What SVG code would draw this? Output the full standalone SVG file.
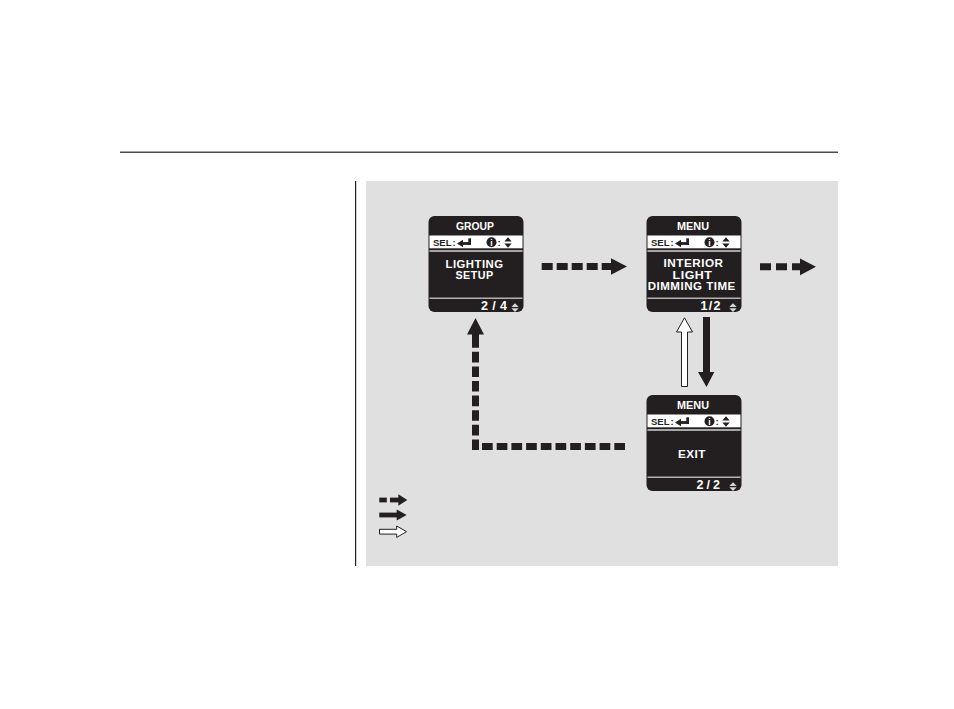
<svg xmlns="http://www.w3.org/2000/svg" xmlns:xlink="http://www.w3.org/1999/xlink" width="954" height="709" viewBox="0 0 954 709">
<style>
.k{fill:#231f20}
.w{fill:#ffffff}
.hd{font-family:"Liberation Sans",Arial,sans-serif;font-weight:bold;font-size:11.5px;fill:#ffffff;text-anchor:middle}
.bd{font-family:"Liberation Sans",Arial,sans-serif;font-weight:bold;font-size:11.5px;fill:#ffffff;text-anchor:middle;letter-spacing:0.5px}
.ft{font-family:"Liberation Sans",Arial,sans-serif;font-weight:bold;font-size:12.5px;fill:#ffffff}
.sl{font-family:"Liberation Sans",Arial,sans-serif;font-weight:bold;font-size:9.5px;fill:#231f20}
.dash{fill:none;stroke:#231f20;stroke-width:7}
</style>
<defs>
<g id="frame">
<rect class="k" x="0" y="0" width="95" height="96" rx="6"/>
<rect class="w" x="1" y="19.5" width="93" height="12.8"/>
<rect class="w" x="1" y="34.4" width="93" height="1.2"/>
<rect fill="#d6d6d6" x="1" y="81.6" width="93" height="1.2"/>
<text class="sl" x="4.5" y="29.8">SEL</text>
<text class="sl" x="24" y="29.5">:</text>
<polygon class="k" points="28.5,27.5 34.5,23.8 34.5,31.2"/>
<rect class="k" x="34" y="26.1" width="8.5" height="2.8"/>
<rect class="k" x="39.8" y="22.3" width="2.7" height="6.6"/>
<circle class="k" cx="63" cy="26.3" r="5"/>
<text x="63" y="29.6" font-family="Liberation Sans,Arial,sans-serif" font-weight="bold" font-size="8.5" fill="#ffffff" text-anchor="middle">i</text>
<text class="sl" x="69" y="29.5">:</text>
<polygon class="k" points="75.8,25.4 83.2,25.4 79.5,21.3"/>
<polygon class="k" points="75.8,27.6 83.2,27.6 79.5,31.7"/>
<polygon fill="#d6d6d6" points="82.8,91 90.2,91 86.5,87.2"/>
<polygon fill="#d6d6d6" points="82.8,92.2 90.2,92.2 86.5,96"/>
</g>
</defs>

<rect x="0" y="0" width="954" height="709" fill="#ffffff"/>
<rect x="120" y="151.6" width="718" height="1.2" class="k"/>
<rect x="355" y="181" width="1.2" height="385" class="k"/>
<rect x="366" y="181" width="472" height="385" fill="#e0e0e0"/>

<g id="node-group">
<use xlink:href="#frame" x="428.5" y="216"/>
<text class="hd" x="475" y="229.7" textLength="38" lengthAdjust="spacingAndGlyphs">GROUP</text>
<text class="bd" x="474.5" y="267.5" textLength="58" lengthAdjust="spacingAndGlyphs">LIGHTING</text>
<text class="bd" x="474.5" y="279.2" textLength="38" lengthAdjust="spacingAndGlyphs">SETUP</text>
<text class="ft" x="481" y="310.2" textLength="26" lengthAdjust="spacing">2/4</text>
</g>

<g id="node-menu-interior">
<use xlink:href="#frame" x="646.5" y="216"/>
<text class="hd" x="693" y="229.5" textLength="32" lengthAdjust="spacingAndGlyphs">MENU</text>
<text class="bd" x="693.5" y="266.9" textLength="60" lengthAdjust="spacingAndGlyphs">INTERIOR</text>
<text class="bd" x="692.5" y="278.5" textLength="40" lengthAdjust="spacingAndGlyphs">LIGHT</text>
<text class="bd" x="691.7" y="290.2" textLength="88" lengthAdjust="spacingAndGlyphs">DIMMING TIME</text>
<text class="ft" x="700.5" y="309.5" textLength="20" lengthAdjust="spacing">1/2</text>
</g>

<g id="node-menu-exit">
<use xlink:href="#frame" x="646.5" y="395"/>
<text class="hd" x="693" y="409.2" textLength="32" lengthAdjust="spacingAndGlyphs">MENU</text>
<text class="bd" x="692" y="457.9" textLength="28" lengthAdjust="spacingAndGlyphs">EXIT</text>
<text class="ft" x="696.5" y="489.2" textLength="23.5" lengthAdjust="spacing">2/2</text>
</g>

<g id="connectors">
<line class="dash" x1="541.7" y1="266.5" x2="612.5" y2="266.5" stroke-dasharray="11 4"/>
<polygon class="k" points="611,258.3 627,266.5 611,274.7"/>
<line class="dash" x1="760" y1="266.8" x2="801" y2="266.8" stroke-dasharray="11 5"/>
<polygon class="k" points="800,258.5 816,266.8 800,275.2"/>
<polygon fill="#ffffff" stroke="#231f20" stroke-width="1" points="684.5,317.8 692.5,332 687.5,332 687.5,386.5 681.5,386.5 681.5,332 676.5,332"/>
<polygon class="k" points="703,317 710,317 710,372 714.3,372 706.5,387 698,372 703,372"/>
<line class="dash" x1="482" y1="446.5" x2="625.5" y2="446.5" stroke-dasharray="10.7 4"/>
<line class="dash" x1="475.5" y1="450" x2="475.5" y2="334" stroke-dasharray="10.6 4 10.6 4 10.6 4 10.6 4 10.6 4 10.6 4 10.6 4 14 0"/>
<polygon class="k" points="475.5,318 484,334.5 467,334.5"/>
</g>

<g id="legend">
<rect class="k" x="379.3" y="497.6" width="7.5" height="4.8"/>
<rect class="k" x="390" y="497.6" width="9" height="4.8"/>
<polygon class="k" points="398.3,494.3 407.3,500 398.3,505.7"/>
<rect class="k" x="379.3" y="512.6" width="18" height="4.8"/>
<polygon class="k" points="396.7,509.6 406.7,515 396.7,520.6"/>
<polygon fill="#ffffff" stroke="#231f20" stroke-width="1" points="379.5,529.3 396.7,529.3 396.7,526 406.5,531.7 396.7,537.4 396.7,534.1 379.5,534.1"/>
</g>
</svg>
